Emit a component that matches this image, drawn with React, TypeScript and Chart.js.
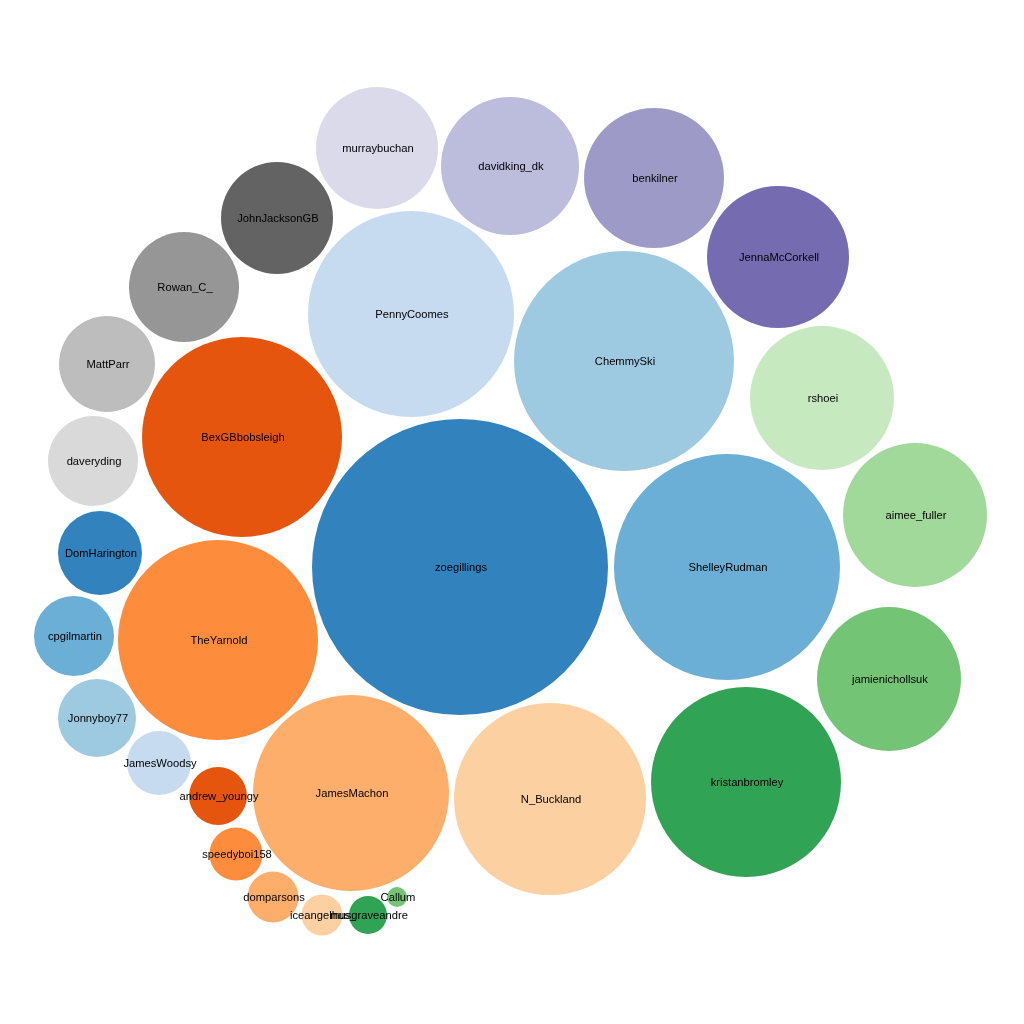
import React, { useEffect, useRef } from "react";
import { Chart, registerables } from "chart.js";

Chart.register(...registerables);

const names = [
  "zoegillings", "ShelleyRudman", "ChemmySki", "PennyCoomes", "BexGBbobsleigh",
  "TheYarnold", "JamesMachon", "N_Buckland", "kristanbromley", "jamienichollsuk",
  "aimee_fuller", "rshoei", "JennaMcCorkell", "benkilner", "davidking_dk",
  "murraybuchan", "JohnJacksonGB", "Rowan_C_", "MattParr", "daveryding",
  "DomHarington", "cpgilmartin", "Jonnyboy77", "JamesWoodsy", "andrew_youngy",
  "speedyboi158", "domparsons", "iceangelhus_", "musgraveandre", "Callum",
];

const xs = [
  460, 727, 624, 411, 242, 218, 351, 550, 746, 889,
  915, 822, 778, 654, 510, 377, 277, 184, 107, 93,
  100, 74, 97, 159, 218, 236, 273, 322, 368, 397,
];

const ys = [
  567, 567, 361, 314, 437, 640, 793, 799, 782, 679,
  515, 398, 257, 178, 166, 148, 218, 287, 364, 461,
  553, 636, 718, 763, 796, 854, 897, 915, 915, 897,
];

const radii = [
  148, 113, 110, 103, 100, 100, 98, 96, 95, 72,
  72, 72, 71, 70, 69, 61, 56, 55, 48, 45,
  42, 40, 39, 32, 29, 26.5, 25.5, 20.5, 19, 10,
];

const palette = [
  "#3182bd", "#6baed6", "#9ecae1", "#c6dbef", "#e6550d", "#fd8d3c", "#fdae6b", "#fdd0a2",
  "#31a354", "#74c476", "#a1d99b", "#c7e9c0", "#756bb1", "#9e9ac8", "#bcbddc", "#dadaeb",
  "#636363", "#969696", "#bdbdbd", "#d9d9d9",
];

const labelPlugin = {
  id: "bubbleLabels",
  afterDatasetsDraw(chart: any) {
    const ctx = chart.ctx;
    const meta = chart.getDatasetMeta(0);
    ctx.save();
    ctx.font = "11.2px 'Liberation Sans', Arial, sans-serif";
    ctx.fillStyle = "#000";
    ctx.textAlign = "center";
    ctx.textBaseline = "middle";
    meta.data.forEach((el: any, i: number) => {
      ctx.fillText(names[i], el.x + 1, el.y + 0.5);
    });
    ctx.restore();
  },
};

export default function App() {
  const ref = useRef<HTMLCanvasElement | null>(null);
  useEffect(() => {
    if (!ref.current) return;
    const chart = new Chart(ref.current, {
      type: "bubble",
      data: {
        labels: names,
        datasets: [
          {
            label: "followers",
            data: names.map((_, i) => ({ x: xs[i], y: ys[i], r: radii[i] })),
            backgroundColor: names.map((_, i) => palette[i % palette.length]),
            borderWidth: 0,
            hoverBorderWidth: 0,
            clip: false as any,
          },
        ],
      },
      options: {
        responsive: false,
        animation: false,
        layout: { padding: 0, autoPadding: false },
        plugins: {
          legend: { display: false },
          tooltip: { enabled: false },
        },
        scales: {
          x: { type: "linear", min: 0, max: 1024, display: false },
          y: { type: "linear", min: 0, max: 1024, reverse: true, display: false },
        },
      },
      plugins: [labelPlugin],
    });
    return () => chart.destroy();
  }, []);
  return (
    <canvas
      ref={ref}
      width={1024}
      height={1024}
      style={{ position: "absolute", left: 0, top: 0, width: 1024, height: 1024, background: "#fff" }}
    />
  );
}
